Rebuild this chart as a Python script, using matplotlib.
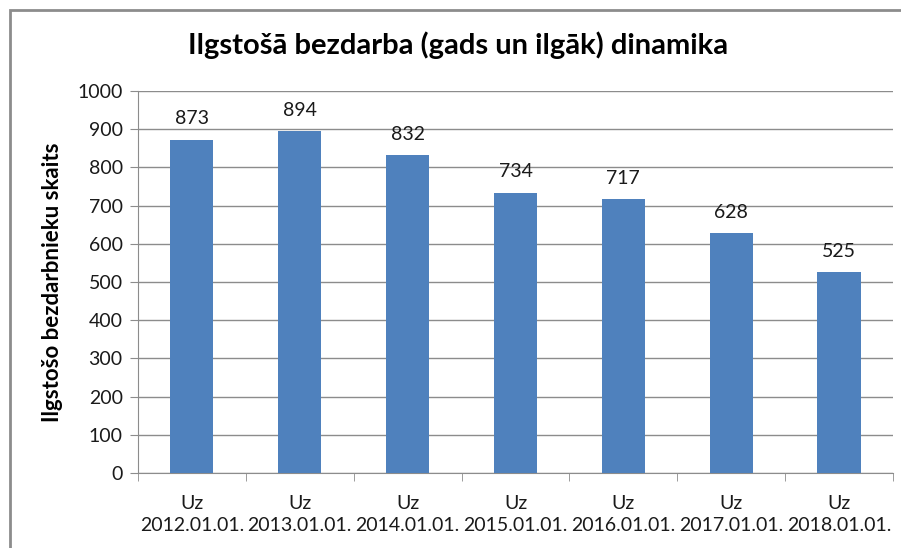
import numpy as np
import matplotlib.pyplot as plt
from matplotlib.patches import Rectangle

# data
years = ["2012", "2013", "2014", "2015", "2016", "2017", "2018"]
values = [873, 894, 832, 734, 717, 628, 525]
labels = ["Uz\n" + y + ".01.01." for y in years]

plt.rcParams['font.family'] = ['Lato', 'DejaVu Sans']

fig = plt.figure(figsize=(9.01, 5.48), dpi=100)
ax = fig.add_axes([138/901, 1 - 473/548, (893 - 138)/901, (473 - 91)/548])

x = np.arange(len(values))
ax.bar(x, values, width=0.4, color="#4f81bd", zorder=3)
for xi, v in zip(x, values):
    ax.annotate(str(v), (xi, v), xytext=(0, 9), textcoords="offset points",
                ha="center", va="bottom", fontsize=14, color="#1a1a1a")

ax.set_xlim(-0.5, len(values) - 0.5)
ax.set_ylim(0, 1000)
ax.set_yticks(np.arange(0, 1001, 100))
ax.yaxis.grid(True, color="#8c8c8c", linewidth=1, zorder=0)
ax.tick_params(axis="y", length=6, color="#8c8c8c", labelsize=14, labelcolor="#1a1a1a", pad=5)

# category labels centred, tick marks on boundaries
ax.set_xticks(x)
ax.set_xticklabels(labels, fontsize=14, color="#1a1a1a", linespacing=1.35)
ax.tick_params(axis="x", which="major", length=0, pad=16)
ax.set_xticks(np.arange(-0.5, len(values), 1), minor=True)
ax.tick_params(axis="x", which="minor", length=6, color="#8c8c8c")

for s in ["top", "right"]:
    ax.spines[s].set_visible(False)
ax.spines["left"].set_color("#8c8c8c")
ax.spines["bottom"].set_color("#8c8c8c")

ax.set_ylabel("Ilgstošo bezdarbnieku skaits", fontsize=16, fontweight="bold", labelpad=10)
fig.text(458/901, 1 - 45/548, "Ilgstošā bezdarba (gads un ilgāk) dinamika",
         ha="center", va="center", fontsize=21, fontweight="bold")

# outer chart frame, cut off at the right and bottom
fig.patches.append(Rectangle((10/901, -0.1), 1.2, 1 - 10/548 + 0.1, transform=fig.transFigure,
                             fill=False, edgecolor="#8c8c8c", linewidth=2))

fig.savefig("out.png", dpi=100)
